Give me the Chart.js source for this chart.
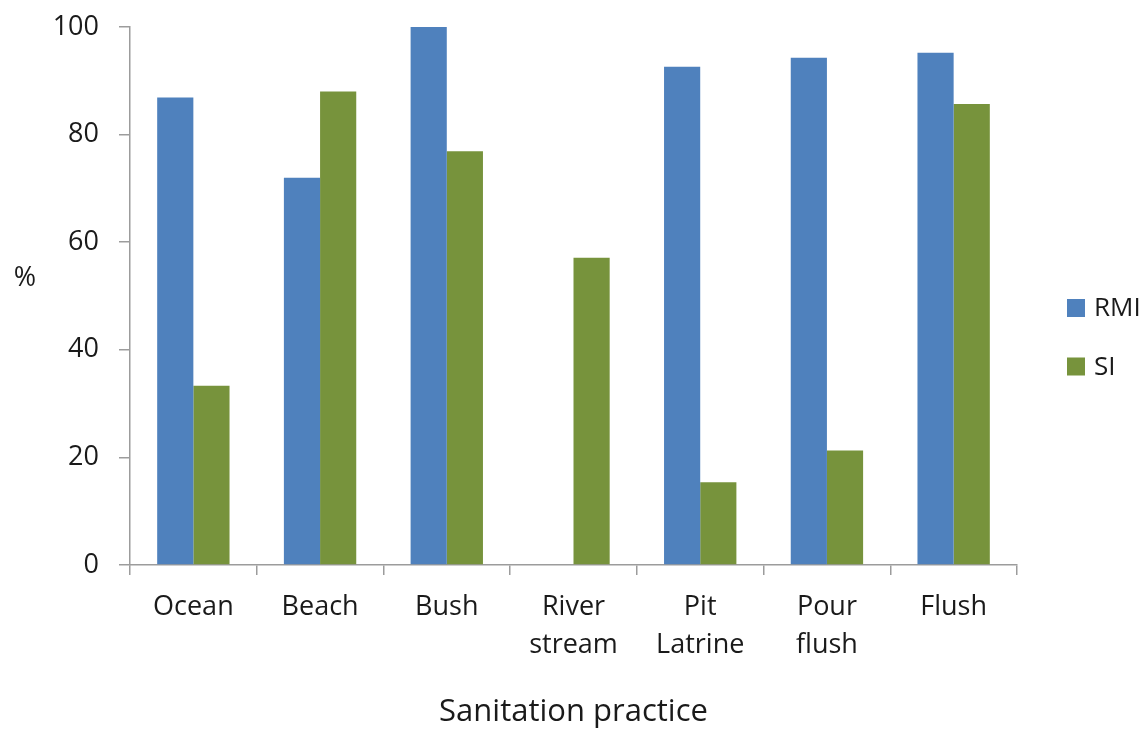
<!DOCTYPE html>
<html>
<head>
<meta charset="utf-8">
<script src="https://cdn.jsdelivr.net/npm/chart.js@4/dist/chart.umd.min.js"></script>
<style>
  html, body { margin: 0; padding: 0; background: #ffffff; }
  #wrap { width: 1146px; height: 729px; }
</style>
</head>
<body>
<div id="wrap"><canvas id="chart" width="1146" height="729"></canvas></div>
<script>
// Sanitation practice categories (multi-line labels as arrays)
const categories = ['Ocean', 'Beach', 'Bush', ['River', 'stream'], ['Pit', 'Latrine'], ['Pour', 'flush'], 'Flush'];
// Percentages per practice
const rmiValues = [86.9, 72.0, 100, 0, 92.6, 94.3, 95.2];
const siValues  = [33.3, 88.0, 76.9, 57.1, 15.4, 21.3, 85.7];
const seriesNames = ['RMI', 'SI'];
const seriesColors = ['#4F81BD', '#77933C'];
const yTicks = [0, 20, 40, 60, 80, 100];

const FONT = "'Open Sans', 'Noto Sans', sans-serif";
const TEXT = '#1a1a1a';
const AXIS = '#9c9c9c';

// Draws the "%" axis label and the right-hand legend
const annotations = {
  id: 'annotations',
  afterDraw(chart) {
    const ctx = chart.ctx;
    ctx.save();
    ctx.fillStyle = TEXT;
    ctx.font = '27px ' + FONT;
    ctx.textAlign = 'center';
    ctx.textBaseline = 'middle';
    ctx.fillText('%', 25, 278);

    ctx.font = '26px ' + FONT;
    ctx.textAlign = 'left';
    chart.data.datasets.forEach((ds, i) => {
      const cy = 308 + i * 58.5;
      ctx.fillStyle = ds.backgroundColor;
      ctx.fillRect(1067, cy - 9, 18, 18);
      ctx.fillStyle = TEXT;
      ctx.fillText(ds.label, 1094, cy + 1);
    });
    ctx.restore();
  }
};

new Chart(document.getElementById('chart'), {
  type: 'bar',
  data: {
    labels: categories,
    datasets: [
      { label: seriesNames[0], data: rmiValues, backgroundColor: seriesColors[0] },
      { label: seriesNames[1], data: siValues,  backgroundColor: seriesColors[1] }
    ]
  },
  options: {
    responsive: false,
    animation: false,
    devicePixelRatio: 1,
    layout: { padding: { left: 0, right: 129, top: 27, bottom: 0 } },
    datasets: { bar: { categoryPercentage: 0.571, barPercentage: 1.0 } },
    plugins: {
      legend: { display: false },
      tooltip: { enabled: false }
    },
    scales: {
      x: {
        grid: { drawOnChartArea: false, drawTicks: true, tickLength: 10, color: AXIS, lineWidth: 1.5 },
        border: { color: AXIS, width: 1.5 },
        ticks: { color: TEXT, font: { family: FONT, size: 27, lineHeight: 1.38 }, padding: 14, maxRotation: 0, autoSkip: false },
        title: { display: true, text: 'Sanitation practice', color: TEXT, font: { family: FONT, size: 31, lineHeight: 1.0 }, padding: { top: 0, bottom: 1 } },
        afterFit(scale) { scale.height = 164; }
      },
      y: {
        min: 0,
        max: 100,
        afterBuildTicks(scale) { scale.ticks = yTicks.map(v => ({ value: v })); },
        grid: { drawOnChartArea: false, drawTicks: true, tickLength: 11, color: AXIS, lineWidth: 1.5 },
        border: { color: AXIS, width: 1.5 },
        ticks: { color: TEXT, font: { family: FONT, size: 27 }, padding: 20 },
        afterFit(scale) {
          scale.width = 130;
          scale.paddingTop = 0;
          scale.paddingBottom = 0;
        }
      }
    }
  },
  plugins: [annotations]
});
</script>
</body>
</html>
